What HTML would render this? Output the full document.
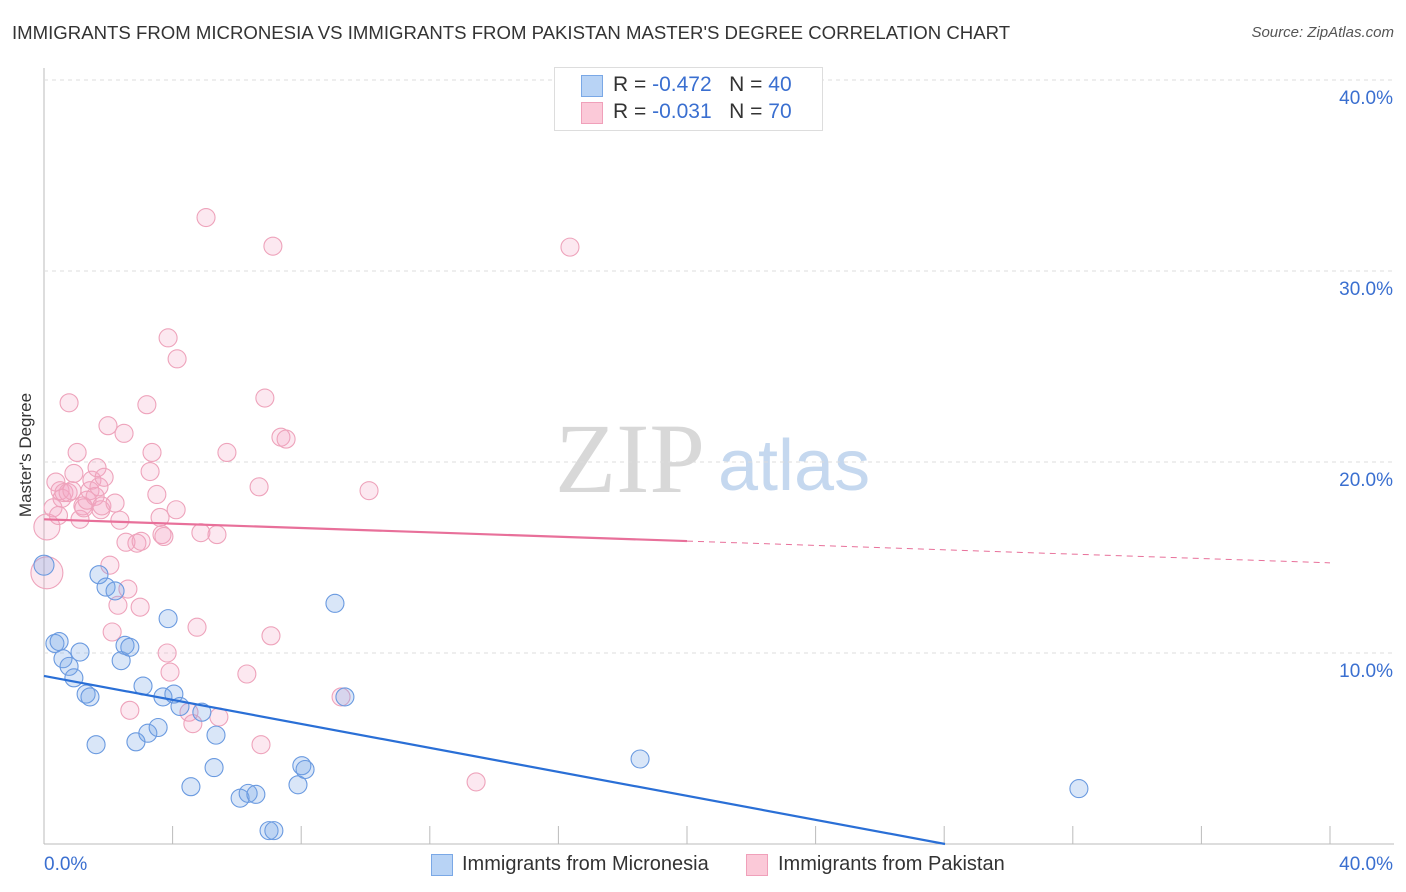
<!DOCTYPE html>
<html><head><meta charset="utf-8"><style>
body{margin:0;background:#fff;font-family:"Liberation Sans",sans-serif;}
#wrap{position:relative;width:1406px;height:892px;overflow:hidden;}
.t{position:absolute;white-space:nowrap;}
</style></head><body>
<div id="wrap">
<div class="t" style="left:12px;top:22px;font-size:18.6px;color:#333;">IMMIGRANTS FROM MICRONESIA VS IMMIGRANTS FROM PAKISTAN MASTER'S DEGREE CORRELATION CHART</div>
<div class="t" style="right:12px;top:24px;font-size:15px;color:#555;font-style:italic;">Source: ZipAtlas.com</div>
<div class="t" style="left:-36px;top:445px;font-size:17px;color:#333;transform:rotate(-90deg);">Master's Degree</div>
<svg id="chart" width="1406" height="892" style="position:absolute;left:0;top:0">
<text x="555" y="492" font-family="Liberation Serif" font-size="100" fill="#d8d8d8">ZIP</text>
<text x="718" y="490" font-family="Liberation Sans" font-size="72" fill="#c5d8ef">atlas</text>
</svg>
<div style="position:absolute;left:554px;top:67px;width:267px;height:62px;border:1px solid #ddd;background:#fff;font-size:21px;">
<div style="position:absolute;left:26px;top:7px;width:20px;height:20px;background:#b8d3f5;border:1px solid #7aa8e6;"></div>
<div class="t" style="left:58px;top:5px;color:#333;">R = <span style="color:#3a6fd0">-0.472</span>&nbsp;&nbsp;&nbsp;N = <span style="color:#3a6fd0">40</span></div>
<div style="position:absolute;left:26px;top:34px;width:20px;height:20px;background:#fbc9d8;border:1px solid #f0a0ba;"></div>
<div class="t" style="left:58px;top:32px;color:#333;">R = <span style="color:#3a6fd0">-0.031</span>&nbsp;&nbsp;&nbsp;N = <span style="color:#3a6fd0">70</span></div>
</div>
<div style="position:absolute;left:431px;top:853px;font-size:20px;color:#333;">
<div style="position:absolute;left:0;top:1px;width:20px;height:20px;background:#b8d3f5;border:1px solid #7aa8e6;"></div>
<div class="t" style="left:31px;top:0">Immigrants from Micronesia</div>
<div style="position:absolute;left:315px;top:1px;width:20px;height:20px;background:#fbc9d8;border:1px solid #f0a0ba;"></div>
<div class="t" style="left:347px;top:0">Immigrants from Pakistan</div>
</div>
</div>
<script>
const yTicks=[10,20,30,40];
const yTickLabels=["10.0%","20.0%","30.0%","40.0%"];
const xTickLabels=["0.0%","40.0%"];
const blueX=[0,0.34,0.47,0.59,0.78,0.93,1.12,1.31,1.43,1.62,1.71,1.93,2.21,2.40,2.52,2.67,2.86,3.08,3.23,3.55,3.70,3.86,4.04,4.23,4.91,5.35,5.29,4.57,6.10,6.35,6.59,7.00,7.15,7.90,8.02,8.12,9.05,9.36,18.54,32.19];
const blueY=[14.6,10.5,10.6,9.7,9.3,8.7,10.05,7.85,7.7,5.2,14.1,13.45,13.25,9.6,10.4,10.3,5.35,8.27,5.8,6.1,7.7,11.8,7.85,7.2,6.9,5.7,4.0,3.0,2.4,2.65,2.6,0.7,0.7,3.1,4.1,3.9,12.6,7.7,4.45,2.9];
const pinkX=[0.09,0.09,0.28,0.37,0.50,0.56,0.62,0.75,0.78,0.87,0.93,1.03,1.12,1.21,1.24,1.34,1.43,1.49,1.59,1.65,1.71,1.77,1.80,1.87,1.99,2.05,2.12,2.21,2.30,2.36,2.49,2.55,2.61,2.67,2.89,2.99,3.02,3.20,3.30,3.36,3.51,3.61,3.67,3.73,3.83,3.86,3.92,4.11,4.14,4.51,4.63,4.76,4.88,5.04,5.38,5.44,5.69,6.31,6.69,6.75,6.87,7.06,7.12,7.37,7.53,9.24,10.11,13.44,16.36,0.45];
const pinkY=[16.6,14.2,17.6,18.95,18.5,18.1,18.4,18.4,23.1,18.5,19.4,20.5,17.0,17.7,17.6,18.0,18.5,19.05,18.2,19.7,18.7,17.5,17.7,19.2,21.9,14.6,11.1,17.85,12.5,16.95,21.5,15.8,13.35,7.0,15.75,12.4,15.85,23.0,19.5,20.5,18.3,17.1,16.2,16.1,10.0,26.5,9.0,17.5,25.4,6.9,6.3,11.35,16.3,32.8,16.2,6.65,20.5,8.9,18.7,5.2,23.35,10.9,31.3,21.3,21.2,7.7,18.5,3.25,31.25,17.2];
const pinkR=[13,16];
const blueTrend=[8.8,-0.314];
const pinkTrend=[17.0,-0.057];
const NS="http://www.w3.org/2000/svg";
const svg=document.getElementById('chart');
const X0=44,PXPCT=32.15,Y0=844,PYPCT=19.1;
const sx=v=>X0+v*PXPCT, sy=v=>Y0-v*PYPCT;
function mk(tag,attrs){const e=document.createElementNS(NS,tag);for(const k in attrs)e.setAttribute(k,attrs[k]);svg.appendChild(e);return e;}
let ax=mk('line',{x1:44,y1:68,x2:44,y2:844,stroke:'#bbb','stroke-width':1});


let bx=mk('line',{x1:44,y1:844,x2:1394,y2:844,stroke:'#bbb','stroke-width':1});


for(let i=1;i<=10;i++){const t=mk('line',{x1:sx(i*4),x2:sx(i*4),y1:826,y2:844,stroke:'#bbb'});

}
yTicks.forEach((v,i)=>{const g=mk('line',{x1:44,x2:1394,y1:sy(v),y2:sy(v),stroke:'#ddd','stroke-dasharray':'4,4'});


const t=mk('text',{x:1393,y:sy(v)+24,'text-anchor':'end','font-size':19,fill:'#3a6fd0','font-family':'Liberation Sans'});t.textContent=yTickLabels[i];

});
[[44,'start',0],[1393,'end',1]].forEach(([x,a,i])=>{const t=mk('text',{x:x,y:870,'text-anchor':a,'font-size':19,fill:'#3a6fd0','font-family':'Liberation Sans'});t.textContent=xTickLabels[i];

});
pinkX.forEach((v,i)=>{const c=mk('circle',{cx:sx(v),cy:sy(pinkY[i]),r:pinkR[i]||9,fill:'rgba(244,165,195,0.25)',stroke:'#eea3bb','stroke-width':1.1});

});
blueX.forEach((v,i)=>{const c=mk('circle',{cx:sx(v),cy:sy(blueY[i]),r:i==0?10:9,fill:'rgba(120,165,230,0.28)',stroke:'#6a9ae0','stroke-width':1.1});

});
const bEnd=-blueTrend[0]/blueTrend[1];
let bl=mk('line',{x1:sx(0),y1:sy(blueTrend[0]),x2:sx(bEnd),y2:sy(0),stroke:'#2a6fd6','stroke-width':2.2});


let pl=mk('line',{x1:sx(0),y1:sy(pinkTrend[0]),x2:sx(20),y2:sy(pinkTrend[0]+20*pinkTrend[1]),stroke:'#e8709a','stroke-width':2.2});


let pd=mk('line',{x1:sx(20),y1:sy(pinkTrend[0]+20*pinkTrend[1]),x2:sx(40),y2:sy(pinkTrend[0]+40*pinkTrend[1]),stroke:'#e8709a','stroke-width':1,'stroke-dasharray':'6,5'});


</script>
</body></html>
